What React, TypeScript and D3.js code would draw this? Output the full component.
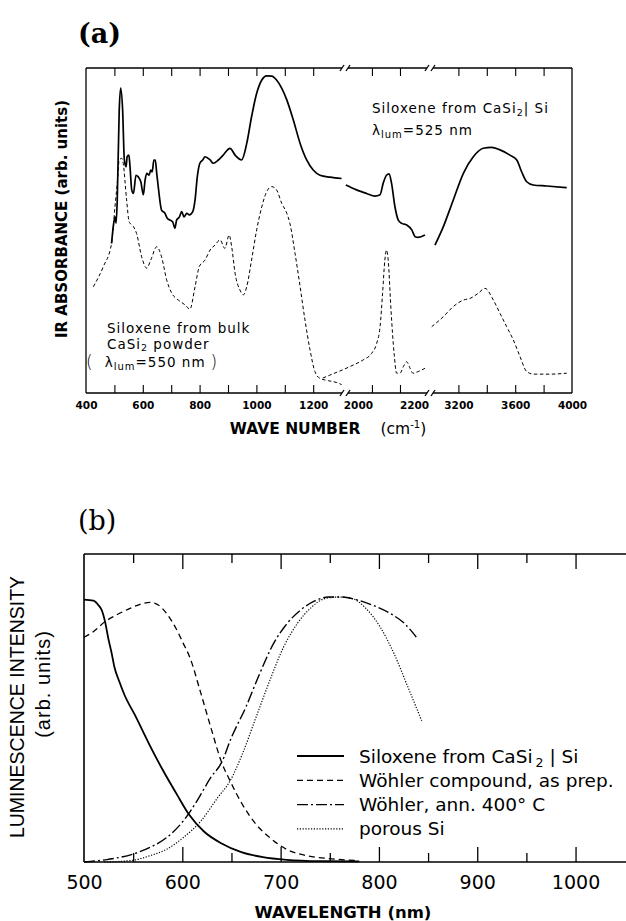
import React, { useEffect, useRef } from "react";
import * as d3 from "d3";

type Pt = [number, number];

// ---- panel (a): IR absorbance, wave number axis broken into three pieces ----
const solidLow: Pt[] = [
  [490, 46], [496, 51.2], [502, 54.2], [506, 52.3], [510, 59.4], [517, 87], [522, 93.8],
  [529, 87], [535, 71.7], [541, 69.6], [545, 72.7], [551, 73.2], [555, 69.6], [561, 62.5],
  [567, 61.4], [576, 67], [584, 66.5], [593, 65], [602, 61], [608, 65.5], [614, 67.6],
  [622, 67], [628, 68.6], [633, 68], [639, 71.7], [644, 71.7], [649, 67.6], [655, 63],
  [666, 56.3], [678, 55.3], [686, 53.8], [696, 53.2], [705, 52.7], [713, 50.7], [719, 53.2],
  [729, 54.2], [737, 55.8], [745, 54.2], [755, 55.3], [764, 54.8], [776, 55.8], [784, 59.4],
  [792, 66.6], [801, 70.7], [811, 71.7], [819, 72.7], [837, 71.7], [848, 70.7], [866, 71.7],
  [883, 73.2], [907, 75.3], [925, 73.2], [948, 71.7], [966, 76.8], [983, 85], [1001, 92.2],
  [1019, 96.3], [1036, 97.6], [1054, 97.5], [1071, 96.3], [1089, 93.8], [1107, 90.2],
  [1130, 84], [1154, 76.8], [1177, 71.7], [1200, 68.6], [1224, 67], [1259, 66.4], [1300, 66],
];
const solidMid: Pt[] = [
  [1957, 64], [1995, 62.5], [2031, 61.4], [2061, 60.6], [2079, 61], [2090, 64.5],
  [2102, 67], [2111, 67.4], [2120, 64.5], [2132, 57.3], [2144, 53.2], [2156, 52.2],
  [2174, 51.7], [2192, 50.2], [2204, 48.1], [2215, 47.9], [2239, 48.6],
];
const solidHigh: Pt[] = [
  [3035, 45.5], [3094, 51.2], [3164, 59.4], [3235, 67.6], [3305, 72.7], [3375, 75.3],
  [3434, 75.6], [3493, 74.8], [3563, 73.2], [3611, 71.7], [3646, 68], [3681, 65],
  [3727, 64], [3822, 63.7], [3963, 63.2],
];
const dashLow: Pt[] = [
  [426, 32.7], [461, 38.9], [490, 46], [502, 57.3], [510, 64.5], [517, 71.7], [526, 72.2],
  [531, 70.7], [543, 59.4], [552, 52.7], [567, 51.2], [578, 49.1], [596, 41.9], [614, 38.4],
  [628, 40.9], [649, 45], [666, 41.9], [684, 34.8], [702, 30.7], [725, 28.6], [749, 27.1],
  [766, 25.8], [784, 32.7], [799, 38.9], [819, 40.9], [837, 44], [854, 45.5], [872, 47.1],
  [889, 44.5], [904, 48.6], [913, 45], [925, 36.8], [942, 31.7], [954, 30.2], [966, 32.7],
  [983, 40.9], [1001, 50.2], [1019, 57.3], [1036, 61.9], [1054, 63.5], [1071, 62.5],
  [1089, 58.4], [1107, 55.3], [1118, 52.2], [1136, 43], [1154, 32.7], [1171, 22.5],
  [1189, 13.2], [1206, 6.6], [1224, 4.5], [1253, 3.8], [1283, 3.2], [1300, 2.6],
];
const dashMid: Pt[] = [
  [1875, 4.6], [1900, 5.5], [1971, 8.1], [2019, 10.2], [2049, 12.2], [2067, 15.3],
  [2079, 20.4], [2088, 30.7], [2096, 40.9], [2102, 44], [2108, 40.9], [2118, 25.5],
  [2129, 12.2], [2138, 6.1], [2150, 6.1], [2162, 8.1], [2174, 9.6], [2186, 7.6],
  [2196, 6.1], [2215, 6.6], [2239, 7.6],
];
const dashHigh: Pt[] = [
  [3012, 20.4], [3094, 23.5], [3164, 26.6], [3235, 28.6], [3282, 29.1], [3340, 30.7],
  [3387, 32.2], [3446, 28.6], [3493, 24.5], [3540, 20.4], [3587, 16.3], [3634, 11.2],
  [3681, 6.6], [3730, 5.8], [3845, 5.8], [3963, 6.1],
];
const lowTicks = [500, 600, 700, 800, 900, 1000, 1100, 1200];
const midTicks = [2050, 2150];
const highTicks = [3200, 3400, 3600, 3800];
const lowLabels = [400, 600, 800, 1000, 1200];
const midLabels = [2000, 2200];
const highLabels = [3200, 3600, 4000];

// ---- panel (b): luminescence spectra ----
const siloxeneLum: Pt[] = [
  [500, 0.99], [509.5, 0.986], [514.5, 0.97], [518, 0.951], [521.4, 0.907], [524.7, 0.844],
  [528, 0.79], [531, 0.735], [536, 0.68], [541, 0.632], [552, 0.553], [566, 0.447],
  [580, 0.348], [594, 0.258], [607, 0.178], [622, 0.115], [640, 0.07], [660, 0.037],
  [682, 0.018], [706, 0.008], [740, 0.003], [780, 0.002],
];
const wohlerPrep: Pt[] = [
  [500, 0.848], [509.5, 0.869], [521.4, 0.907], [533, 0.932], [546.8, 0.957], [560, 0.976],
  [567, 0.98], [575.6, 0.97], [584, 0.938], [592.6, 0.888], [601, 0.825], [608, 0.769],
  [618.6, 0.64], [629, 0.508], [640, 0.376], [648.6, 0.306], [661, 0.218], [675, 0.142],
  [689, 0.092], [706, 0.048], [724, 0.026], [748.5, 0.013], [776.6, 0.006],
];
const wohlerAnn: Pt[] = [
  [500, 0.0], [524.6, 0.01], [549, 0.029], [566.5, 0.054], [584, 0.092], [601, 0.155],
  [615, 0.231], [629, 0.319], [640, 0.376], [650, 0.47], [664.6, 0.584], [678.6, 0.71],
  [692.6, 0.823], [706.6, 0.9], [720.7, 0.952], [734.7, 0.985], [748.7, 1.0], [762.8, 1.0],
  [776.8, 0.99], [794.4, 0.968], [812, 0.937], [826, 0.9], [838, 0.849],
];
const porousSi: Pt[] = [
  [520.5, 0], [549, 0.006], [566.5, 0.023], [584, 0.048], [601, 0.092], [619, 0.155],
  [636, 0.243], [648.6, 0.306], [661, 0.407], [675, 0.546], [689, 0.685], [703, 0.811],
  [717, 0.9], [731, 0.96], [745, 0.994], [759, 1.0], [773, 0.994], [787, 0.956],
  [801.4, 0.886], [815.4, 0.786], [829.5, 0.66], [843.5, 0.533],
];
const wlMajor = [600, 700, 800, 900, 1000];
const wlMinor = [550, 650, 750, 850, 950];
const wlLabels = [500, 600, 700, 800, 900, 1000];

const SANS = "'DejaVu Sans', sans-serif";
const HELV = "'Liberation Sans', Arial, sans-serif";
const SERIF = "'DejaVu Serif', 'Liberation Serif', serif";

export default function App() {
  const ref = useRef<SVGSVGElement>(null);

  useEffect(() => {
    document.body.style.margin = "0";
    const svg = d3.select(ref.current);
    svg.selectAll("*").remove();

    // ================= (a) =================
    const A = { left: 86, right: 572, top: 68, bottom: 393 };
    const brk = [345, 430];
    const xLow = d3.scaleLinear().domain([400, 1312]).range([A.left, brk[0]]);
    const xMid = d3.scaleLinear().domain([1954, 2257]).range([brk[0], brk[1]]);
    const xHigh = d3.scaleLinear().domain([3000, 4000]).range([brk[1], A.right]);
    const yA = d3.scaleLinear().domain([0, 100]).range([A.bottom, A.top]);

    svg.append("text").attr("x", 78).attr("y", 43).attr("font-family", SERIF)
      .attr("font-weight", "bold").attr("font-size", 27).text("(a)");

    const ga = svg.append("g");
    // frame with gaps at breaks
    const frame = ga.append("g").attr("stroke", "#000").attr("stroke-width", 1.3).attr("fill", "none");
    frame.append("line").attr("x1", A.left).attr("x2", A.left).attr("y1", A.top).attr("y2", A.bottom);
    frame.append("line").attr("x1", A.right).attr("x2", A.right).attr("y1", A.top).attr("y2", A.bottom);
    [A.top, A.bottom].forEach((y) => {
      const xs = [A.left, brk[0] - 3, brk[0] + 3, brk[1] - 3, brk[1] + 3, A.right];
      for (let i = 0; i < xs.length; i += 2) {
        frame.append("line").attr("x1", xs[i]).attr("x2", xs[i + 1]).attr("y1", y).attr("y2", y);
      }
      brk.forEach((bx) => {
        frame.append("line").attr("x1", bx - 5).attr("y1", y + 3).attr("x2", bx - 1).attr("y2", y - 3);
        frame.append("line").attr("x1", bx + 1).attr("y1", y + 3).attr("x2", bx + 5).attr("y2", y - 3);
      });
    });

    const segs: [d3.ScaleLinear<number, number>, number[], number[]][] = [
      [xLow, lowTicks, lowLabels],
      [xMid, midTicks, midLabels],
      [xHigh, highTicks, highLabels],
    ];
    segs.forEach(([sc, ticks, labels]) => {
      const b = ga.append("g").attr("transform", `translate(0,${A.bottom})`)
        .call(d3.axisBottom(sc).tickValues(ticks).tickSize(-8).tickFormat(() => ""));
      const t = ga.append("g").attr("transform", `translate(0,${A.top})`)
        .call(d3.axisTop(sc).tickValues(ticks).tickSize(-8).tickFormat(() => ""));
      [b, t].forEach((g) => {
        g.select(".domain").remove();
        g.selectAll(".tick line").attr("stroke-width", 1.1);
      });
      const lab = ga.append("g").attr("transform", `translate(0,${A.bottom})`)
        .call(d3.axisBottom(sc).tickValues(labels).tickSize(0).tickFormat(d3.format("d")));
      lab.select(".domain").remove();
      lab.selectAll("text").attr("y", 16).attr("dy", 0).attr("font-family", SANS)
        .attr("font-weight", "bold").attr("font-size", 10.5).attr("fill", "#000");
    });

    const lineA = (sc: d3.ScaleLinear<number, number>) =>
      d3.line<Pt>().x((d) => sc(d[0])).y((d) => yA(d[1])).curve(d3.curveMonotoneX);

    const curves: [Pt[], d3.ScaleLinear<number, number>, boolean][] = [
      [solidLow, xLow, true], [solidMid, xMid, true], [solidHigh, xHigh, true],
      [dashLow, xLow, false], [dashMid, xMid, false], [dashHigh, xHigh, false],
    ];
    curves.forEach(([data, sc, solid]) => {
      ga.append("path").attr("d", lineA(sc)(data)).attr("fill", "none").attr("stroke", "#000")
        .attr("stroke-width", solid ? 1.7 : 1).attr("stroke-dasharray", solid ? null : "3.5,2.5");
    });

    // annotations
    const annA = ga.append("g").attr("font-family", SANS).attr("font-size", 13.5)
      .attr("letter-spacing", 1).attr("fill", "#000");
    const t1 = annA.append("text").attr("x", 372).attr("y", 113);
    t1.append("tspan").text("Siloxene from CaSi");
    t1.append("tspan").attr("font-size", 9.5).attr("dy", 3).text("2");
    t1.append("tspan").attr("dy", -3).text("| Si");
    const t2 = annA.append("text").attr("x", 372).attr("y", 135);
    t2.append("tspan").text("λ");
    t2.append("tspan").attr("font-size", 10).attr("dy", 3).text("lum");
    t2.append("tspan").attr("dy", -3).text("=525 nm");

    annA.append("text").attr("x", 107).attr("y", 333).text("Siloxene from bulk");
    const t4 = annA.append("text").attr("x", 107).attr("y", 349);
    t4.append("tspan").text("CaSi");
    t4.append("tspan").attr("font-size", 9.5).attr("dy", 2).text("2");
    t4.append("tspan").attr("dy", -2).text(" powder");
    const t5 = annA.append("text").attr("x", 86).attr("y", 367);
    t5.append("tspan").attr("font-size", 17).attr("font-weight", "lighter").attr("dy", 1).text("(");
    t5.append("tspan").attr("dy", -1).attr("dx", 11).text("λ");
    t5.append("tspan").attr("font-size", 10).attr("dy", 3).text("lum");
    t5.append("tspan").attr("dy", -3).text("=550 nm");
    t5.append("tspan").attr("font-size", 17).attr("font-weight", "lighter").attr("dx", 5).attr("dy", 1).text(")");

    // axis titles
    ga.append("text").attr("transform", "translate(67,219) rotate(-90)")
      .attr("text-anchor", "middle").attr("font-family", SANS).attr("font-weight", "bold")
      .attr("font-size", 15).text("IR ABSORBANCE (arb. units)");
    const xt = ga.append("text").attr("x", 328).attr("y", 434).attr("text-anchor", "middle")
      .attr("font-family", SANS).attr("font-size", 15.5);
    xt.append("tspan").attr("font-weight", "bold").text("WAVE NUMBER");
    xt.append("tspan").attr("dx", 20).text("(cm");
    xt.append("tspan").attr("font-size", 10).attr("dy", -6).text("-1");
    xt.append("tspan").attr("dy", 6).text(")");

    // ================= (b) =================
    const B = { left: 84, right: 626, top: 554, bottom: 862 };
    const xB = d3.scaleLinear().domain([500, 1050]).range([B.left, 624.7]);
    const yB = d3.scaleLinear().domain([0, 1]).range([B.bottom, 597]);

    svg.append("text").attr("x", 78).attr("y", 530).attr("font-family", SERIF)
      .attr("font-size", 27).text("(b)");

    const gb = svg.append("g");
    const fb = gb.append("g").attr("stroke", "#000").attr("stroke-width", 1.6);
    fb.append("line").attr("x1", B.left).attr("x2", B.left).attr("y1", B.top).attr("y2", B.bottom);
    fb.append("line").attr("x1", B.left).attr("x2", B.right).attr("y1", B.top).attr("y2", B.top);
    fb.append("line").attr("x1", B.left).attr("x2", B.right).attr("y1", B.bottom).attr("y2", B.bottom);

    ([[wlMajor, 15], [wlMinor, 9]] as [number[], number][]).forEach(([vals, len]) => {
      const b = gb.append("g").attr("transform", `translate(0,${B.bottom})`)
        .call(d3.axisBottom(xB).tickValues(vals).tickSize(-len).tickFormat(() => ""));
      const t = gb.append("g").attr("transform", `translate(0,${B.top})`)
        .call(d3.axisTop(xB).tickValues(vals).tickSize(-len).tickFormat(() => ""));
      [b, t].forEach((g) => {
        g.select(".domain").remove();
        g.selectAll(".tick line").attr("stroke-width", 1.3);
      });
    });
    const labB = gb.append("g").attr("transform", `translate(0,${B.bottom})`)
      .call(d3.axisBottom(xB).tickValues(wlLabels).tickSize(0).tickFormat(d3.format("d")));
    labB.select(".domain").remove();
    labB.selectAll("text").attr("y", 27).attr("dy", 0).attr("font-family", SANS)
      .attr("font-size", 19).attr("fill", "#000");

    const lineB = d3.line<Pt>().x((d) => xB(d[0])).y((d) => yB(d[1])).curve(d3.curveMonotoneX);
    const series: [Pt[], string, number, string][] = [
      [siloxeneLum, "Siloxene from CaSi", 1.8, ""],
      [wohlerPrep, "Wöhler compound, as prep.", 1.3, "6,4"],
      [wohlerAnn, "Wöhler, ann. 400° C", 1.4, "11,3,2,3"],
      [porousSi, "porous Si", 1.2, "1.2,1.6"],
    ];
    series.forEach(([data, , w, dash]) => {
      gb.append("path").attr("d", lineB(data)).attr("fill", "none").attr("stroke", "#000")
        .attr("stroke-width", w).attr("stroke-dasharray", dash || null);
    });

    // legend
    const leg = gb.append("g").attr("font-family", SANS).attr("font-size", 18.5);
    series.forEach(([, label, w, dash], i) => {
      const y = 756 + i * 24.3;
      leg.append("line").attr("x1", 297).attr("x2", 344).attr("y1", y).attr("y2", y)
        .attr("stroke", "#000").attr("stroke-width", w).attr("stroke-dasharray", dash || null);
      const tx = leg.append("text").attr("x", 359).attr("y", y + 6.5);
      tx.append("tspan").text(label);
      if (i === 0) {
        tx.append("tspan").attr("font-size", 12.5).attr("dy", 4).attr("dx", 3).text("2");
        tx.append("tspan").attr("dy", -4).text(" | Si");
      }
    });

    gb.append("text").attr("transform", "translate(24,707) rotate(-90)")
      .attr("text-anchor", "middle").attr("font-family", HELV).attr("font-size", 19.5)
      .text("LUMINESCENCE INTENSITY");
    gb.append("text").attr("transform", "translate(50,684) rotate(-90)")
      .attr("text-anchor", "middle").attr("font-family", HELV).attr("font-size", 20)
      .attr("letter-spacing", 1).text("(arb. units)");
    gb.append("text").attr("x", 343).attr("y", 918).attr("text-anchor", "middle")
      .attr("font-family", SANS).attr("font-weight", "bold").attr("font-size", 16.5)
      .text("WAVELENGTH (nm)");
  }, []);

  return <svg ref={ref} width={626} height={921} style={{ display: "block", background: "#fff" }} />;
}
